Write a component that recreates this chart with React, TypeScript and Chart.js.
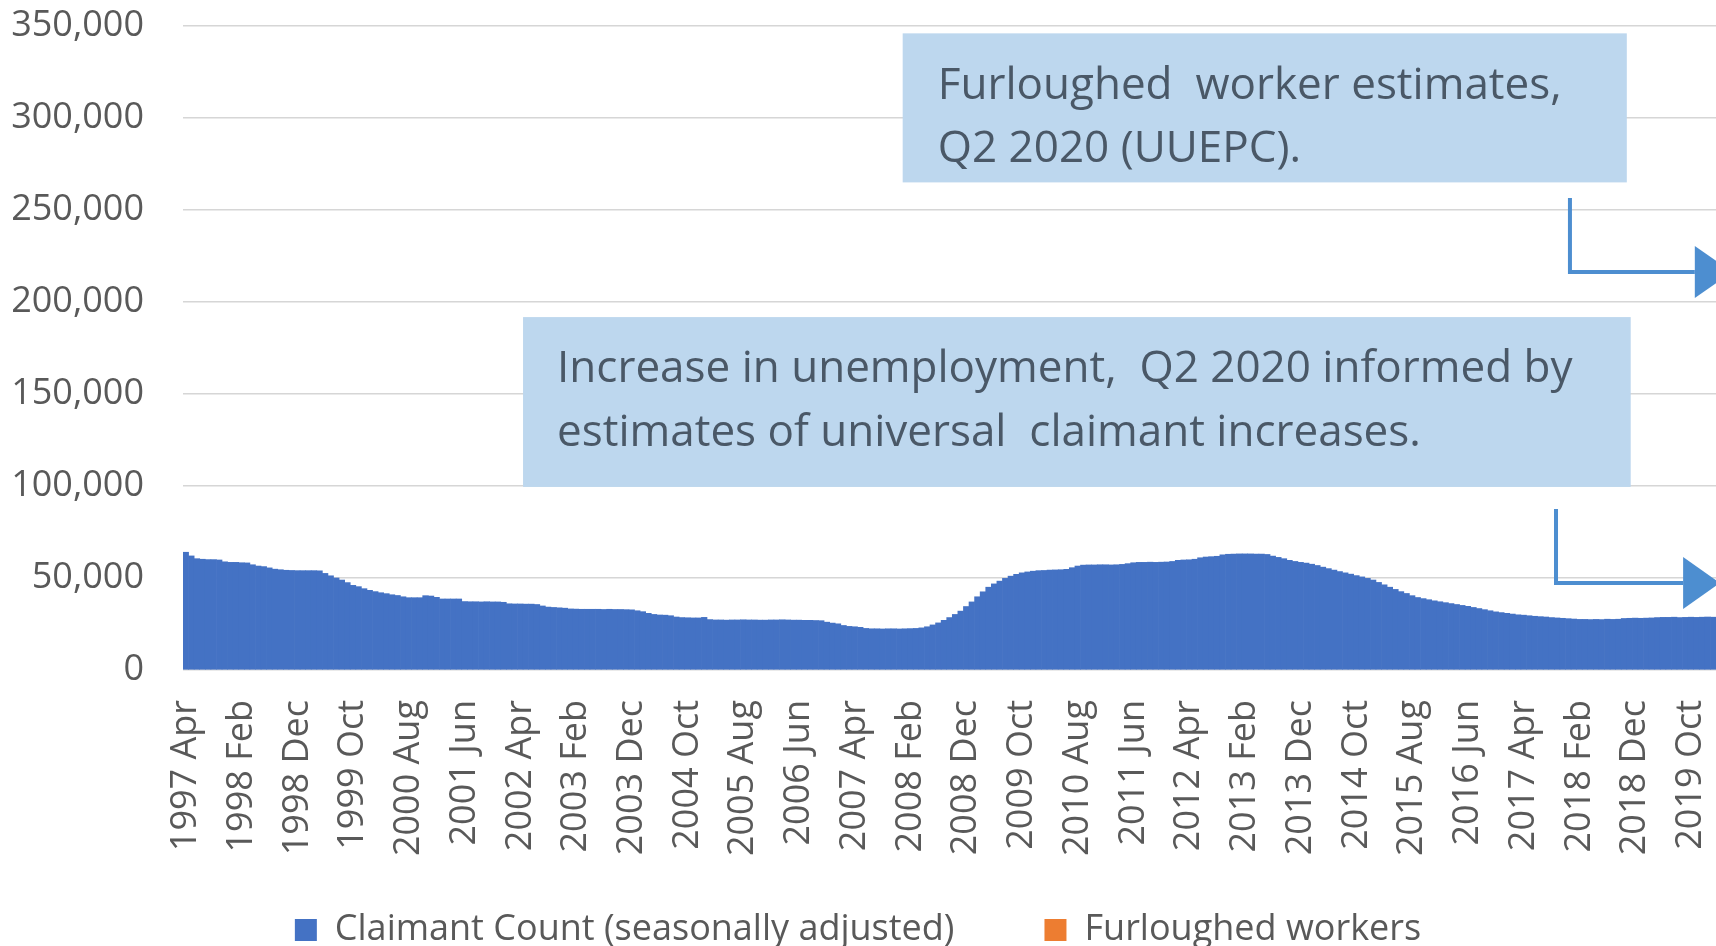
import React, { useEffect, useRef } from "react";
import { Chart, registerables } from "chart.js";

Chart.register(...registerables);

// ---------- DATA ----------
const MONTH_NAMES = ["Jan", "Feb", "Mar", "Apr", "May", "Jun", "Jul", "Aug", "Sep", "Oct", "Nov", "Dec"];
const FIRST_YEAR = 1997;
const FIRST_MONTH = 3; // April

// Claimant Count (seasonally adjusted), monthly
const claimant1997 = [64000, 62000, 60500, 60200, 60000, 60000, 59800, 58800, 58500]; // Apr-Dec
const claimant1998 = [58500, 58300, 58200, 57200, 56500, 56200, 55500, 54800, 54500, 54200, 54100, 54000];
const claimant1999 = [54000, 54000, 54000, 53900, 52500, 51200, 50000, 48900, 47500, 46000, 45300, 44200];
const claimant2000 = [43300, 42600, 42000, 41500, 40900, 40500, 39800, 39300, 39300, 39300, 40400, 40200];
const claimant2001 = [39500, 38600, 38600, 38600, 38600, 37200, 37100, 37100, 37000, 37100, 37000, 37000];
const claimant2002 = [36800, 36000, 35900, 35900, 35800, 35800, 35600, 34800, 34200, 34000, 33800, 33600];
const claimant2003 = [33200, 33100, 33000, 33000, 33000, 33000, 32900, 33000, 32900, 32900, 32800, 32700];
const claimant2004 = [32200, 31700, 30800, 30200, 29900, 29800, 29500, 28800, 28500, 28400, 28300, 28300];
const claimant2005 = [28600, 27400, 27200, 27200, 27100, 27200, 27200, 27300, 27200, 27200, 27100, 27100];
const claimant2006 = [27200, 27200, 27300, 27200, 27100, 27100, 27000, 27000, 26900, 26800, 26000, 25500];
const claimant2007 = [25100, 24200, 23700, 23500, 23200, 22600, 22400, 22400, 22300, 22400, 22400, 22300];
const claimant2008 = [22400, 22500, 22600, 22900, 23500, 24500, 25600, 27000, 28500, 30200, 32000, 34500];
const claimant2009 = [37000, 39800, 42500, 45000, 46800, 48300, 49800, 51000, 52000, 52800, 53300, 53700];
const claimant2010 = [54000, 54100, 54300, 54400, 54500, 54700, 55600, 56500, 57000, 57100, 57100, 57200];
const claimant2011 = [57200, 57100, 57200, 57400, 57800, 58300, 58500, 58500, 58600, 58500, 58600, 58700];
const claimant2012 = [59000, 59600, 59800, 59900, 60200, 61000, 61400, 61600, 61800, 62600, 62900, 63000];
const claimant2013 = [63100, 63100, 63100, 63000, 63000, 62800, 61900, 61200, 60500, 59600, 59000, 58500];
const claimant2014 = [58100, 57500, 56800, 55900, 55100, 54300, 53500, 52800, 52100, 51300, 50600, 49800];
const claimant2015 = [48900, 47600, 46300, 45000, 43800, 42600, 41600, 40400, 39400, 38800, 38200, 37600];
const claimant2016 = [37100, 36600, 36100, 35600, 35100, 34600, 34000, 33400, 32800, 32200, 31600, 31200];
const claimant2017 = [30800, 30400, 30000, 29800, 29500, 29200, 29000, 28800, 28500, 28300, 28100, 27900];
const claimant2018 = [27700, 27500, 27500, 27400, 27500, 27400, 27600, 27500, 27600, 28000, 28100, 28200];
const claimant2019 = [28100, 28200, 28300, 28500, 28600, 28600, 28700, 28500, 28600, 28700, 28600, 28700];
const claimant2020 = [28800, 28700]; // Jan-Feb

const claimantYears = [
  claimant1997, claimant1998, claimant1999, claimant2000, claimant2001, claimant2002,
  claimant2003, claimant2004, claimant2005, claimant2006, claimant2007, claimant2008,
  claimant2009, claimant2010, claimant2011, claimant2012, claimant2013, claimant2014,
  claimant2015, claimant2016, claimant2017, claimant2018, claimant2019, claimant2020,
];

// Furloughed workers: no values inside the visible period
const furloughedWorkers: (number | null)[] = [];

const Y_MAX = 350000;
const Y_STEP = 50000;
const LABEL_EVERY = 10;

const SERIES_NAMES = ["Claimant Count (seasonally adjusted)", "Furloughed workers"];

const NOTE_1 = ["Furloughed  worker estimates,", "Q2 2020 (UUEPC)."];
const NOTE_2 = ["Increase in unemployment,  Q2 2020 informed by", "estimates of universal  claimant increases."];

// ---------- built from the arrays ----------
const categories: string[] = [];
const claimantCount: number[] = [];
claimantYears.forEach((yearVals, yi) => {
  const startM = yi === 0 ? FIRST_MONTH : 0;
  yearVals.forEach((v, k) => {
    categories.push(`${FIRST_YEAR + yi} ${MONTH_NAMES[startM + k]}`);
    claimantCount.push(v);
  });
});

// ---------- annotation layout (in axis units) ----------
const BOXES = [
  { lines: NOTE_1, x0: 128.6, x1: 258.5, yTop: 346000, yBot: 265000, textX: 134.9, lineY: [317400, 282800] },
  { lines: NOTE_2, x0: 60.5, x1: 259.2, yTop: 191800, yBot: 99500, textX: 66.6, lineY: [163300, 128800] },
];
const ARROWS = [
  { x: 248.3, yTop: 256500, yMid: 216300, headBase: 270.7, headTip: 277.4 },
  { x: 245.8, yTop: 87500, yMid: 47300, headBase: 268.6, headTip: 275.2 },
];

const TEXT_COLOR = "#595959";
const FONT = "'Open Sans'";
const AXIS_FONT_SIZE = 36;

const notesPlugin = {
  id: "notes",
  afterDraw(chart: any) {
    const { ctx } = chart;
    const x = chart.scales.x;
    const y = chart.scales.y;
    ctx.save();
    for (const b of BOXES) {
      const l = x.getPixelForValue(b.x0);
      const r = x.getPixelForValue(b.x1);
      const t = y.getPixelForValue(b.yTop);
      const bt = y.getPixelForValue(b.yBot);
      ctx.fillStyle = "#BDD7EE";
      ctx.fillRect(l, t, r - l, bt - t);
      ctx.fillStyle = "#4a5867";
      ctx.font = `44px ${FONT}`;
      ctx.textBaseline = "middle";
      ctx.textAlign = "left";
      b.lines.forEach((s, k) => {
        ctx.fillText(s, x.getPixelForValue(b.textX), y.getPixelForValue(b.lineY[k]));
      });
    }
    const color = "#4d8ed0";
    for (const a of ARROWS) {
      const ax = x.getPixelForValue(a.x);
      const top = y.getPixelForValue(a.yTop);
      const mid = y.getPixelForValue(a.yMid);
      const hb = x.getPixelForValue(a.headBase);
      const tip = x.getPixelForValue(a.headTip);
      ctx.strokeStyle = color;
      ctx.lineWidth = 4;
      ctx.beginPath();
      ctx.moveTo(ax, top);
      ctx.lineTo(ax, mid);
      ctx.lineTo(hb, mid);
      ctx.stroke();
      ctx.fillStyle = color;
      ctx.beginPath();
      ctx.moveTo(hb, mid - 26);
      ctx.lineTo(tip, mid);
      ctx.lineTo(hb, mid + 26);
      ctx.closePath();
      ctx.fill();
    }
    ctx.restore();
  },
};

export default function App() {
  const ref = useRef<HTMLCanvasElement | null>(null);

  useEffect(() => {
    if (!ref.current) return;
    const chart = new Chart(ref.current, {
      type: "bar",
      data: {
        labels: categories,
        datasets: [
          {
            label: SERIES_NAMES[0],
            data: claimantCount,
            backgroundColor: "#4472C4",
            borderWidth: 0,
            barPercentage: 1,
            categoryPercentage: 1,
          },
          {
            label: SERIES_NAMES[1],
            data: furloughedWorkers,
            backgroundColor: "#ED7D31",
            borderWidth: 0,
            barPercentage: 1,
            categoryPercentage: 1,
          },
        ],
      },
      options: {
        responsive: false,
        animation: false,
        events: [],
        layout: { padding: { top: 26, left: 0, right: 0, bottom: -12 } },
        font: { family: FONT },
        scales: {
          x: {
            stacked: true,
            offset: true,
            grid: { display: false, drawTicks: false },
            border: { display: false },
            ticks: {
              autoSkip: false,
              minRotation: 90,
              maxRotation: 90,
              padding: 30,
              color: TEXT_COLOR,
              font: { family: FONT, size: AXIS_FONT_SIZE },
              callback: (_v: any, i: number) => (i % LABEL_EVERY === 0 ? categories[i] : ""),
            },
            afterFit: (s: any) => {
              s.height = 152;
              s.paddingLeft = 0;
              s.paddingRight = 0;
              // let the rotated labels run below the axis box
              s._computeLabelArea = () => undefined;
            },
          },
          y: {
            stacked: true,
            min: 0,
            max: Y_MAX,
            grid: { color: "#d6d6d6", lineWidth: 1.5, drawTicks: false },
            border: { display: false },
            ticks: {
              stepSize: Y_STEP,
              padding: 39,
              color: TEXT_COLOR,
              font: { family: FONT, size: AXIS_FONT_SIZE },
              callback: (v: any) => Number(v).toLocaleString("en-US"),
            },
            afterFit: (s: any) => {
              s.width = 183;
              s.paddingTop = 0;
              s.paddingBottom = 0;
            },
          },
        },
        plugins: {
          legend: {
            position: "bottom",
            labels: {
              boxWidth: 22,
              boxHeight: 22,
              padding: 90,
              color: TEXT_COLOR,
              font: { family: FONT, size: AXIS_FONT_SIZE },
            },
          },
          tooltip: { enabled: false },
        },
      },
      plugins: [notesPlugin],
    });
    return () => chart.destroy();
  }, []);

  return (
    <div style={{ position: "fixed", left: 0, top: 0, width: 1716, height: 946, background: "#fff" }}>
      <canvas ref={ref} width={1716} height={946} />
    </div>
  );
}
